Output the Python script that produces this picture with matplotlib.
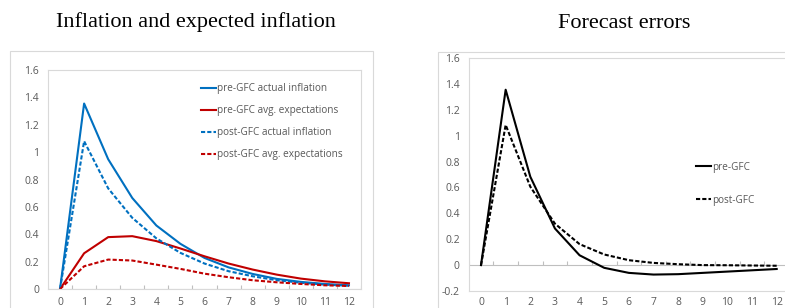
import matplotlib
matplotlib.use("Agg")
import matplotlib.pyplot as plt
from matplotlib.patches import Rectangle
import numpy as np

# horizon (quarters)
horizon = list(range(13))

# left panel: inflation and expected inflation
pre_actual = [0, 1.355, 0.948, 0.665, 0.464, 0.330, 0.227, 0.158, 0.110, 0.074, 0.052, 0.037, 0.027]
pre_expect = [0, 0.261, 0.379, 0.386, 0.350, 0.296, 0.239, 0.186, 0.142, 0.105, 0.076, 0.056, 0.042]
post_actual = [0, 1.080, 0.735, 0.520, 0.370, 0.264, 0.186, 0.130, 0.093, 0.064, 0.046, 0.032, 0.024]
post_expect = [0, 0.166, 0.215, 0.208, 0.178, 0.147, 0.112, 0.086, 0.064, 0.049, 0.037, 0.027, 0.022]

# right panel: forecast errors
pre_err = [0, 1.355, 0.683, 0.283, 0.076, -0.021, -0.060, -0.073, -0.070, -0.060, -0.050, -0.040, -0.030]
post_err = [0, 1.083, 0.606, 0.320, 0.162, 0.082, 0.038, 0.017, 0.007, 0.000, -0.001, -0.003, -0.005]

left_yticks = [0, 0.2, 0.4, 0.6, 0.8, 1.0, 1.2, 1.4, 1.6]
right_yticks = [-0.2, 0, 0.2, 0.4, 0.6, 0.8, 1.0, 1.2, 1.4, 1.6]

BLUE = "#0070C0"
RED = "#C00000"
GRAY_TXT = "#595959"
FRAME = "#D9D9D9"
AXIS = "#BFBFBF"
DASH = (0, (2, 1))

plt.rcParams["font.family"] = ["Open Sans", "DejaVu Sans"]

W, H = 785, 308
fig = plt.figure(figsize=(W / 100, H / 100), dpi=100)


def px_axes(x0, x1, ytop, ybot):
    return fig.add_axes([x0 / W, (H - ybot) / H, (x1 - x0) / W, (ybot - ytop) / H])


def fmt(v):
    if abs(v) < 1e-9:
        return "0"
    s = f"{v:.1f}"
    return s[:-2] if s.endswith(".0") else s


def style(ax, yticks, ylim, xpad):
    ax.set_xlim(-0.5, 12.5)
    ax.set_ylim(*ylim)
    for sp in ax.spines.values():
        sp.set_color(FRAME)
        sp.set_linewidth(0.8)
    ax.set_yticks(yticks)
    ax.set_yticklabels([fmt(v) for v in yticks])
    ax.set_xticks(horizon)
    ax.tick_params(axis="y", length=0, pad=6.5, labelsize=7.5, labelcolor=GRAY_TXT)
    ax.tick_params(axis="x", length=0, pad=xpad, labelsize=7.5, labelcolor=GRAY_TXT)
    # category separator ticks sitting on the zero line
    ax.axhline(0, color=AXIS, lw=0.8, zorder=1)
    tick_len = (ylim[1] - ylim[0]) * 0.017
    ax.vlines(np.arange(-0.5, 13, 1.0), 0, tick_len, color=AXIS, lw=0.8, zorder=1)


# outer chart frames
fig.patches.append(Rectangle((10 / W, -0.05), 363 / W, (H - 51) / H + 0.05,
                             transform=fig.transFigure, fill=False, ec=FRAME, lw=0.8))
fig.patches.append(Rectangle((438 / W, -0.05), 0.5, (H - 52) / H + 0.05,
                             transform=fig.transFigure, fill=False, ec=FRAME, lw=0.8))

# left panel
ax1 = px_axes(48, 361, 70, 289)
style(ax1, left_yticks, (0, 1.6), 6)
ax1.plot(horizon, pre_actual, color=BLUE, lw=1.5, label="pre-GFC actual inflation")
ax1.plot(horizon, pre_expect, color=RED, lw=1.5, label="pre-GFC avg. expectations")
ax1.plot(horizon, post_actual, color=BLUE, lw=1.5, ls=DASH, label="post-GFC actual inflation")
ax1.plot(horizon, post_expect, color=RED, lw=1.5, ls=DASH, label="post-GFC avg. expectations")
ax1.legend(loc="upper left", bbox_to_anchor=(0.488, 0.94), frameon=False, fontsize=7.2,
           labelcolor=GRAY_TXT, handlelength=1.5, handletextpad=0.15, labelspacing=1.1,
           borderpad=0, borderaxespad=0)

# right panel
ax2 = px_axes(468.7, 789, 58, 291)
style(ax2, right_yticks, (-0.2, 1.6), 4.5)
ax2.plot(horizon, pre_err, color="black", lw=1.5, label="pre-GFC")
ax2.plot(horizon, post_err, color="black", lw=1.5, ls=DASH, label="post-GFC")
ax2.legend(loc="upper left", bbox_to_anchor=(0.709, 0.555), frameon=False, fontsize=7.2,
           labelcolor=GRAY_TXT, handlelength=1.5, handletextpad=0.15, labelspacing=2.2,
           borderpad=0, borderaxespad=0)

# titles
fig.text(196 / W, 1 - 22 / H, "Inflation and expected inflation", family="Liberation Serif",
         fontsize=16, ha="center", va="center", color="black")
fig.text(624 / W, 1 - 23 / H, "Forecast errors", family="Liberation Serif",
         fontsize=16, ha="center", va="center", color="black")

fig.savefig("out.png", dpi=100)
